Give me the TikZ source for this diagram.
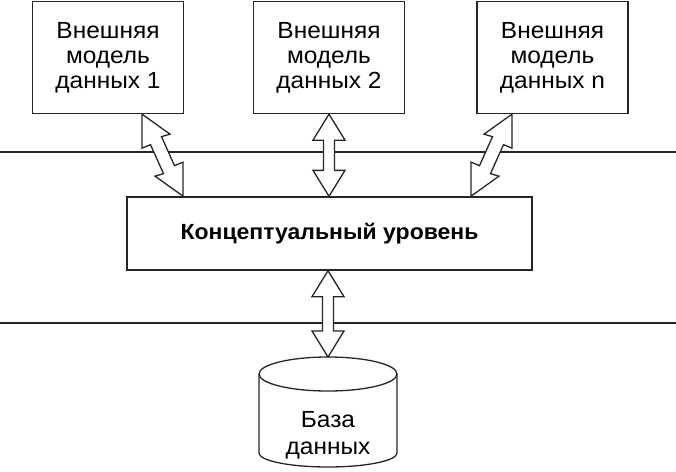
\documentclass[tikz,border=0pt]{standalone}
\usepackage{fontspec}
\setmainfont{Liberation Sans}[FakeStretch=1.05]
\usetikzlibrary{calc}
\newcommand{\vdarrow}[2]{%
  \draw[barrow] (#1) -- ($(#1)+(16,26)$) -- ($(#1)+(5.5,26)$) -- ($(#2)+(5.5,-26)$) -- ($(#2)+(16,-26)$) -- (#2)
    -- ($(#2)+(-16,-26)$) -- ($(#2)+(-5.5,-26)$) -- ($(#1)+(-5.5,26)$) -- ($(#1)+(-16,26)$) -- cycle;}
\begin{document}
\begin{tikzpicture}[x=1pt,y=-1pt,
  line/.style={line width=1.3pt,draw=black!85},
  box/.style={line,minimum width=151pt,minimum height=112pt,align=center,inner sep=0pt,
    font=\fontsize{23.3}{25}\selectfont},
  cbox/.style={line,minimum width=405pt,minimum height=73pt,inner sep=0pt,
    font=\fontsize{21.9}{24}\selectfont\bfseries},
  barrow/.style={line,fill=white,line join=miter},
  txt/.style={align=center,inner sep=0pt,font=\fontsize{23.3}{27}\selectfont}]
\useasboundingbox (0,0) rectangle (676,471);
% level lines
\coordinate (l1a) at (0,152); \coordinate (l1b) at (676,152);
\coordinate (l2a) at (0,323); \coordinate (l2b) at (676,323);
\draw[line] (l1a) -- (l1b);
\draw[line] (l2a) -- (l2b);
% boxes
\node[box] (b1) at (108,57.5) {Внешняя\\модель\\данных 1};
\node[box] (b2) at (329,57.5) {Внешняя\\модель\\данных 2};
\node[box] (b3) at (552.5,57.5) {Внешняя\\модель\\данных n};
\node[cbox] (c) at (329.5,233.5) {Концептуальный уровень};
% database cylinder
\coordinate (dbtop) at (328,357);
\draw[line] (259,374) -- (259,453) arc[start angle=180,end angle=0,x radius=69,y radius=14] -- (397,374);
\draw[line] (328,374) ellipse [x radius=69,y radius=17];
\node[txt] (db) at (328,435) {База\\данных};
% arrows
\coordinate (a1) at ($(b1.south)+(34,0)$);
\coordinate (a3) at ($(b3.south)+(-40.5,0)$);
\begin{scope}[shift={(a1)}]
\draw[barrow] (0,0) -- (0,34) -- (8.5,30.5) -- (21.5,59.5) -- (13,62) -- (41,82) -- (41,48)
  -- (32.5,51.5) -- (19.5,22.5) -- (28,20) -- cycle;
\end{scope}
\begin{scope}[shift={(a3)},xscale=-1]
\draw[barrow] (0,0) -- (0,34) -- (8.5,30.5) -- (21.5,59.5) -- (13,62) -- (41,82) -- (41,48)
  -- (32.5,51.5) -- (19.5,22.5) -- (28,20) -- cycle;
\end{scope}
\coordinate (a2b) at (b2.south |- c.north);
\vdarrow{b2.south}{a2b}
\coordinate (a4t) at (c.south -| dbtop);
\vdarrow{a4t}{dbtop}
\end{tikzpicture}
\end{document}
